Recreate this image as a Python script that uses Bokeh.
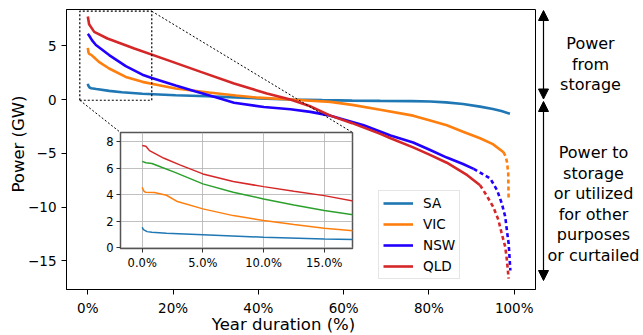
from math import pi
from bokeh.plotting import figure
from bokeh.models import Range1d, FixedTicker, Label, Arrow, NormalHead, Legend, LegendItem
from bokeh.embed import file_html
from bokeh.resources import INLINE

FONT = "DejaVu Sans"

# ---------------- data (x: % of year, y: GW) ----------------
sa_x = [0, 0.1, 0.4, 0.8, 2, 5, 8, 12.8, 20.6, 28, 34.7, 40, 47.5, 55, 62, 68.6, 76, 80.3, 84, 88, 92, 95, 97, 99]
sa_y = [1.47, 1.3, 1.12, 1.05, 0.97, 0.8, 0.67, 0.53, 0.4, 0.3, 0.2, 0.1, 0.0, -0.06, -0.1, -0.13, -0.15, -0.18, -0.27, -0.42, -0.66, -0.88, -1.08, -1.33]

vic_x = [0, 0.15, 0.3, 0.8, 1.5, 2.6, 5, 8.9, 12.8, 16.7, 20.6, 28.4, 34.7, 40, 47.5, 56.9, 62, 68.6, 76.3, 80.3, 84.2, 88, 92, 95, 97.5]
vic_y = [4.8, 4.4, 4.25, 4.15, 3.9, 3.5, 2.88, 2.1, 1.64, 1.33, 1.02, 0.65, 0.37, 0.17, 0.0, -0.22, -0.5, -0.95, -1.5, -1.95, -2.4, -3.0, -3.6, -4.15, -4.9]
vic_tail_x = [97.5, 98.0, 98.3, 98.6, 98.7]
vic_tail_y = [-4.9, -5.3, -5.8, -6.8, -9.4]

nsw_x = [0, 0.3, 1.0, 1.9, 5, 8.9, 12.8, 15, 20.6, 25.3, 30, 34.3, 41.3, 47.5, 52.2, 56.9, 64.7, 71, 76.3, 80.3, 84.2, 88, 90.5]
nsw_y = [6.1, 5.95, 5.5, 5.07, 4.13, 3.1, 2.31, 2.0, 1.31, 0.75, 0.22, -0.3, -0.7, -0.9, -1.15, -1.5, -2.4, -3.35, -4.0, -4.7, -5.4, -6.0, -6.45]
nsw_tail_x = [90.5, 94.4, 96.0, 97.1, 97.9, 98.3, 98.7, 98.9, 99.1]
nsw_tail_y = [-6.45, -7.35, -8.44, -9.67, -10.9, -12.2, -13.4, -14.6, -15.9]

qld_x = [0, 0.3, 1.5, 4.6, 10.9, 18.7, 26.5, 34.3, 42, 47.5, 52, 56.9, 62, 68.6, 71, 76.3, 80, 84.2, 89, 92]
qld_y = [7.72, 7.0, 6.29, 5.67, 4.74, 3.66, 2.57, 1.49, 0.56, 0.0, -0.6, -1.5, -2.2, -3.2, -3.6, -4.45, -5.1, -5.88, -7.04, -7.97]
qld_tail_x = [92, 93.5, 95.1, 96.3, 97.1, 97.9, 98.3, 98.7]
qld_tail_y = [-7.97, -8.9, -10.0, -11.2, -12.5, -13.7, -14.95, -16.65]

# inset (zoom on the first part of the year)
ins_sa_x = [0, 0.1, 0.4, 0.8, 2, 5, 10, 15, 17.5]
ins_sa_y = [1.53, 1.35, 1.2, 1.16, 1.08, 0.96, 0.78, 0.65, 0.6]
ins_vic_x = [0, 0.1, 0.25, 1.0, 2.0, 2.9, 5, 7.5, 10, 12.5, 15, 17.5]
ins_vic_y = [4.55, 4.3, 4.18, 4.15, 3.95, 3.47, 2.92, 2.41, 2.04, 1.74, 1.46, 1.26]
ins_nsw_x = [0, 0.3, 0.8, 1.6, 2.7, 5, 7.5, 10, 12.5, 15, 17.5]
ins_nsw_y = [6.51, 6.4, 6.35, 6.06, 5.68, 4.81, 4.18, 3.67, 3.22, 2.79, 2.45]
ins_qld_x = [0, 0.3, 0.6, 1.8, 3.1, 5, 7.5, 10, 12.5, 15, 17.5]
ins_qld_y = [7.70, 7.65, 7.32, 6.74, 6.24, 5.56, 4.98, 4.6, 4.25, 3.92, 3.5]

series_names = ["SA", "VIC", "NSW", "QLD"]
x_ticks = [0, 20, 40, 60, 80, 100]
x_tick_labels = ["0%", "20%", "40%", "60%", "80%", "100%"]
y_ticks = [-15, -10, -5, 0, 5]
y_tick_labels = ["\u221215", "\u221210", "\u22125", "0", "5"]
ins_x_ticks = [0, 5, 10, 15]
ins_x_tick_labels = ["0.0%", "5.0%", "10.0%", "15.0%"]
ins_y_ticks = [0, 2, 4, 6, 8]

# zoom window shown in the inset (in main data coords)
ZOOM_X0, ZOOM_X1, ZOOM_Y0, ZOOM_Y1 = -1.88, 15.0, -0.07, 8.21

# ---------------- styles ----------------
C_SA, C_VIC, C_NSW, C_QLD = "#1f77b4", "#ff7f0e", "#2200ff", "#d62728"
C_NSW_INSET = "#2ca02c"

X0, X1 = -5, 105
Y0, Y1 = -17.67, 8.37
MB_L, MB_T, FW, FH = 58, 1, 469, 280
W, H = 635, 327


def place(px_left, px_top):
    return {"position": "absolute", "left": f"{px_left}px", "top": f"{px_top}px"}


p = figure(width=W, height=H, output_backend="svg", toolbar_location=None,
           x_range=Range1d(X0, X1), y_range=Range1d(Y0, Y1),
           min_border_left=MB_L, min_border_top=MB_T,
           min_border_right=W - MB_L - FW, min_border_bottom=H - MB_T - FH,
           styles=place(8, 8))
p.xgrid.visible = False
p.ygrid.visible = False
p.outline_line_color = "black"
p.outline_line_width = 1
p.outline_line_alpha = 1
p.background_fill_color = "white"

p.xaxis.ticker = FixedTicker(ticks=x_ticks)
p.xaxis.major_label_overrides = dict(zip(x_ticks, x_tick_labels))
p.yaxis.ticker = FixedTicker(ticks=y_ticks)
p.yaxis.major_label_overrides = dict(zip(y_ticks, y_tick_labels))
for ax in (p.xaxis[0], p.yaxis[0]):
    ax.major_label_text_font = FONT
    ax.major_label_text_font_size = "13.5px"
    ax.major_label_text_color = "black"
    ax.major_tick_out = 5
    ax.major_tick_in = 0
    ax.minor_tick_line_color = None
    ax.axis_line_color = "black"
    ax.major_tick_line_color = "black"
    ax.major_label_standoff = 5

# page px -> main data helpers (page has 8px margin)
PL, PT = 8 + MB_L, 8 + MB_T
def dx(px):
    return X0 + (px - PL) / FW * (X1 - X0)
def dy(py):
    return Y1 - (py - PT) / FH * (Y1 - Y0)

LW = 2.6
DASH = "4 3"
r_sa = p.line(sa_x, sa_y, color=C_SA, line_width=LW)
r_vic = p.line(vic_x, vic_y, color=C_VIC, line_width=LW)
p.line(vic_tail_x, vic_tail_y, color=C_VIC, line_width=LW, line_dash=DASH)
r_nsw = p.line(nsw_x, nsw_y, color=C_NSW, line_width=LW)
p.line(nsw_tail_x, nsw_tail_y, color=C_NSW, line_width=LW, line_dash=DASH)
r_qld = p.line(qld_x, qld_y, color=C_QLD, line_width=LW)
p.line(qld_tail_x, qld_tail_y, color=C_QLD, line_width=LW, line_dash=DASH)

# inset geometry (page px)
INS_FL, INS_FT, INS_FW, INS_FH = 120, 132, 232, 116
# zoom rectangle + connectors
p.line([ZOOM_X0, ZOOM_X1, ZOOM_X1, ZOOM_X0, ZOOM_X0],
       [ZOOM_Y0, ZOOM_Y0, ZOOM_Y1, ZOOM_Y1, ZOOM_Y0],
       color="black", line_width=1.2, line_dash="2 2")
p.line([ZOOM_X0, dx(INS_FL)], [ZOOM_Y0, dy(INS_FT)], color="black", line_width=1, line_dash="2 2")
p.line([ZOOM_X1, dx(INS_FL + INS_FW)], [ZOOM_Y1, dy(INS_FT)], color="black", line_width=1, line_dash="2 2")

legend = Legend(items=[LegendItem(label=n, renderers=[r]) for n, r in
                       zip(series_names, [r_sa, r_vic, r_nsw, r_qld])],
                location=(312, 10))
legend.label_text_font = FONT
legend.label_text_font_size = "13.6px"
legend.label_text_color = "black"
legend.glyph_width = 30
legend.glyph_height = 14
legend.label_height = 14
legend.spacing = 5
legend.padding = 4
legend.margin = 0
legend.label_standoff = 10
legend.border_line_color = "#cccccc"
legend.border_line_width = 1
legend.background_fill_alpha = 0.8
p.add_layout(legend)

# ---------------- overlay for texts/arrows outside the axes ----------------
ov = figure(width=W, height=H, output_backend="svg", toolbar_location=None,
            x_range=Range1d(8, 8 + W), y_range=Range1d(8 + H, 8),
            x_axis_type=None, y_axis_type=None, min_border=0,
            styles=place(8, 8))
ov.grid.visible = False
ov.outline_line_color = None
ov.background_fill_alpha = 0
ov.border_fill_alpha = 0

ov.add_layout(Label(x=283, y=324, text="Year duration (%)", text_font=FONT, text_color="black",
                    text_font_size="16.5px", text_align="center", text_baseline="middle"))
ov.add_layout(Label(x=18, y=143.5, text="Power (GW)", text_font=FONT, angle=pi / 2, text_color="black",
                    text_font_size="16.5px", text_align="center", text_baseline="middle"))

AX = 543
for ys, ye in [(10, 98.5), (101, 280)]:
    ov.add_layout(Arrow(x_start=AX, y_start=ys, x_end=AX, y_end=ye,
                        start=NormalHead(size=10, fill_color="black", line_color="black"),
                        end=NormalHead(size=10, fill_color="black", line_color="black"),
                        line_color="black", line_width=1.2))

for txt, cx, lines_y in [(["Power", "from", "storage"], 590, [43, 64, 84]),
                         (["Power to", "storage", "or utilized", "for other", "purposes", "or curtailed"],
                          593, [152, 173, 193, 214, 234, 255])]:
    for t, yy in zip(txt, lines_y):
        ov.add_layout(Label(x=cx, y=yy, text=t, text_font=FONT, text_font_size="16px", text_color="black",
                            text_align="center", text_baseline="middle"))

# ---------------- inset ----------------
IX0, IX1 = -1.79, 17.33
IY0, IY1 = -0.075, 8.69
INS_PAGE_L, INS_PAGE_T = 95, 128
ib_l = INS_FL - INS_PAGE_L
ib_t = INS_FT - INS_PAGE_T
ib_r, ib_b = 5, 30
ins = figure(width=ib_l + INS_FW + ib_r, height=ib_t + INS_FH + ib_b,
             output_backend="svg", toolbar_location=None,
             x_range=Range1d(IX0, IX1), y_range=Range1d(IY0, IY1),
             min_border_left=ib_l, min_border_top=ib_t, min_border_right=ib_r, min_border_bottom=ib_b,
             styles=place(INS_PAGE_L, INS_PAGE_T))
ins.border_fill_alpha = 0
ins.background_fill_color = "white"
ins.outline_line_color = "#555555"
ins.outline_line_width = 1.5
ins.xaxis.ticker = FixedTicker(ticks=ins_x_ticks)
ins.xaxis.major_label_overrides = dict(zip(ins_x_ticks, ins_x_tick_labels))
ins.yaxis.ticker = FixedTicker(ticks=ins_y_ticks)
ins.grid.grid_line_color = "#b0b0b0"
ins.grid.grid_line_width = 0.8
for ax in (ins.xaxis[0], ins.yaxis[0]):
    ax.major_label_text_font = FONT
    ax.major_label_text_font_size = "11.5px"
    ax.major_label_text_color = "black"
    ax.major_tick_out = 4
    ax.major_tick_in = 0
    ax.minor_tick_line_color = None
    ax.axis_line_color = "#555555"
    ax.major_tick_line_color = "#333333"
    ax.major_label_standoff = 3
ILW = 1.5
ins.line(ins_sa_x, ins_sa_y, color=C_SA, line_width=ILW)
ins.line(ins_vic_x, ins_vic_y, color=C_VIC, line_width=ILW)
ins.line(ins_nsw_x, ins_nsw_y, color=C_NSW_INSET, line_width=ILW)
ins.line(ins_qld_x, ins_qld_y, color=C_QLD, line_width=ILW)

open("out.html", "w").write(file_html([p, ov, ins], INLINE))
